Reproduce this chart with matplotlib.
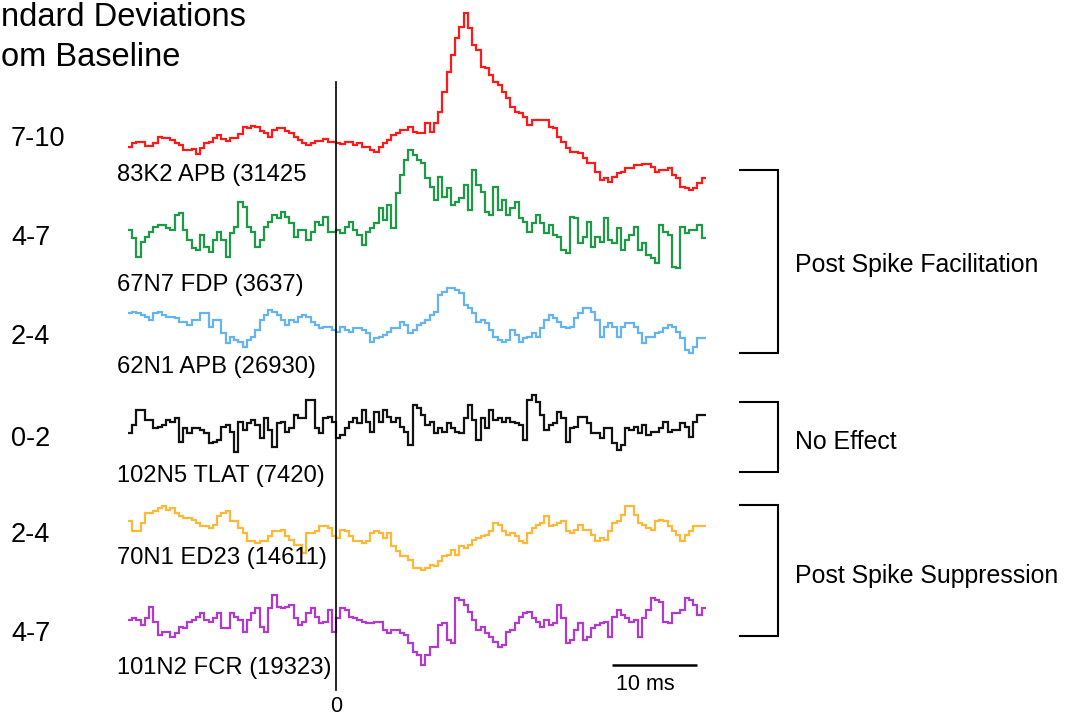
import numpy as np
import matplotlib
matplotlib.use("Agg")
import matplotlib.pyplot as plt

plt.rcParams['font.family'] = ['Liberation Sans', 'DejaVu Sans']

# ---- data -------------------------------------------------------------
t_start = -24.5   # ms, first bin edge
bin_ms = 0.5      # ms per bin

red_vals = [3, 7, 8, 8, 4, 4, 7, 13, 12, 12, 10, 7, 5, 0, 0, 1, -4, 2, 7, 8,
            12, 15, 11, 9, 12, 12, 16, 23, 22, 24, 23, 19, 17, 13, 20, 22, 22, 19, 17, 13,
            10, 7, 5, 7, 9, 9, 11, 8, 8, 7, 6, 8, 8, 5, 7, 3, 3, 0, -2, 3,
            7, 10, 15, 17, 20, 20, 23, 18, 17,
            17, 27, 18, 27, 38, 58, 78, 95, 112, 123, 137, 122, 105, 100, 83, 82, 75, 68, 65, 58,
            52, 43, 38, 37, 33, 25, 30, 30, 30, 30, 23, 22, 13, 8, 2, -2, -2, -3, -8, -13,
            -13, -22, -30, -28, -32, -27, -23, -22, -18, -18, -15, -15, -14, -14, -17, -22, -20, -20, -18, -25,
            -28, -37, -38, -40, -38, -33, -28]

green_vals = [0, -8, -27, -12, -7, -2, 3, 5, 5, 2, 0, 15, 17, 0, -10, -18, -20, -5, -17, -22,
              -10, -2, -10, -27, -3, 3, 28, 23, 3, -2, -17, -10, 3, 8, 15, 12, 18, 13, 7, -7,
              0, 0, -10, -2, 8, 5, 13, -2, -2, 0, -3, 3, 8, 0, -5, -15, -2, 2, 7, 22,
              10, 25, 2, 37, 55, 70, 80, 75, 70,
              67, 52, 43, 30, 53, 33, 42, 25, 28, 32, 45, 20, 60, 45, 38, 18, 15, 43, 20, 30,
              15, 22, 28, 12, 8, -2, 7, 15, 7, -3, 5, -5, -7, -20, -23, 13, 12, -13, -7, 8,
              -17, -7, -12, 12, -10, -13, 2, -20, -10, -5, 3, -20, -13, -25, -28, -33, 5, -2, -5, -37,
              -38, 3, -3, 0, 0, 5, -8]

blue_vals = [7, 8, 7, 5, 3, 0, 7, 8, 5, 3, 3, 2, -2, -2, -5, 0, 0, 7, 7, -7,
             0, 0, -13, -23, -17, -20, -22, -27, -20, -17, -10, 0, 5, 10, 8, 5, 0, -5, 0, -2,
             3, 5, 3, -2, -5, -8, -7, -7, -10, -12, -7, -10, -12, -8, -8, -10, -13, -22, -18, -17,
             -15, -12, -8, -8, -2, -5, -13, -10, -5,
             -3, 0, 5, 8, 25, 28, 32, 32, 30, 27, 15, 12, 7, -2, 0, -3, -10, -17, -20, -22,
             -20, -10, -15, -22, -18, -17, -13, -17, -8, 0, 5, 2, -2, -7, -8, -7, 2, 7, 12, 12,
             8, 0, -17, -7, -3, -7, -17, -7, -3, -3, -7, -13, -23, -17, -17, -13, -12, -8, -5, -7,
             -12, -18, -30, -33, -27, -18, -18]

black_vals = [-8, 0, 15, 15, 5, 5, -3, -2, 0, 5, 3, 7, -17, -3, -8, -3, -3, -5, -8, -18,
              -17, -15, -2, 0, -7, -27, 3, -5, 2, 5, 0, -13, 7, -5, -22, 2, 3, -7, -3, 10,
              7, 7, 25, 25, -3, -8, 7, 8, 3, -13, -10, -3, 3, 7, 2, 15, 3, -7, 13, 3,
              15, 8, 3, 7, -2, -7, -20, 20, 17,
              10, 0, 3, -8, -3, -7, 2, -3, -7, -8, 7, 20, 5, -15, 7, -3, 15, 5, 7, 3,
              7, 3, 2, 0, -15, 25, 30, 23, 10, -5, 0, 2, 13, 7, -17, -3, -2, 8, 8, 2,
              -8, -8, -13, -3, -3, -18, -25, -20, -3, -5, -2, -8, 0, -10, -7, -7, -3, 3, -7, -5,
              -5, 2, -2, -12, 3, 10, 10]

orange_vals = [9, -1, -1, 7, 17, 17, 19, 22, 24, 20, 22, 17, 14, 12, 12, 10, 7, 4, 4, 2,
               5, 14, 17, 19, 9, 9, 2, -3, -11, -11, -13, -11, -11, -6, -1, -1, 0, -6, -10, -15,
               -15, -23, -3, -3, -1, 4, 4, 2, -6, -8, 0, -1, -6, -11, -11, -13, -11, -3, -1, -3,
               -8, -3, -16, -21, -26, -26, -30, -38, -38,
               -40, -38, -35, -36, -31, -26, -25, -20, -25, -16, -18, -15, -10, -8, -6, -5, -1, 7, 5, -1,
               -5, -3, -6, -11, -13, -3, 2, 5, 7, 14, 4, 5, 7, 9, -1, -3, 0, 5, 0, 0,
               -5, -11, -8, -10, -1, 7, 9, 15, 24, 24, 15, 7, 5, 2, 0, 9, 10, 9, 4, -1,
               -5, -11, -5, -1, 4, 4, 4]

purple_vals = [0, 2, 0, -5, 2, 13, -2, -15, -12, -12, -17, -13, -7, -8, -2, 0, 3, 7, 0, -2,
               2, 7, -8, -8, 7, 3, 0, -12, 0, 7, 12, -7, -12, 12, 25, 13, 12, 13, 15, 2,
               -5, -2, 7, 12, 3, -3, -2, 10, -12, 2, 12, 10, 3, 2, 0, -2, -3, -3, -2, -2,
               -10, -13, -10, -10, -13, -15, -23, -32, -35,
               -45, -35, -27, -27, -5, -3, -20, -23, 22, 20, 15, 8, 0, -10, -7, -13, -17, -22, -27, -25,
               -12, -10, -3, 3, 7, 8, 2, -2, -7, 0, -5, -3, 15, 2, -23, -20, -10, -3, -20, -17,
               -8, -5, -3, -2, -17, 3, 10, 5, 2, -2, 0, -17, 2, 10, 22, 20, 18, -2, -3, 7,
               7, 10, 22, 20, 15, 5, 12]

sd_labels = ["7-10", "4-7", "2-4", "0-2", "2-4", "4-7"]
unit_labels = ["83K2 APB (31425", "67N7 FDP (3637)", "62N1 APB (26930)",
               "102N5 TLAT (7420)", "70N1 ED23 (14611)", "101N2 FCR (19323)"]
group_labels = ["Post Spike Facilitation", "No Effect", "Post Spike Suppression"]
title_lines = ["ndard Deviations", "om Baseline"]   # as visible (cropped) in the reference
scale_bar_ms = 10

# ---- styling / layout ---------------------------------------------------
W, H = 1073, 719
PX_PER_MS = 8.5
ZERO_PX = 336

series = [red_vals, green_vals, blue_vals, black_vals, orange_vals, purple_vals]
colors = ["#ff1a1a", "#1e9a46", "#66b3f2", "#111111", "#fdb838", "#b03acb"]
row_base = [150, 230, 320, 425, 530, 620]        # pixel row of each trace
sd_label_y = [139, 238, 337, 439, 535, 634]
unit_label_y = [175, 285, 367, 476, 558, 668]
group_label_y = [265, 442, 576]

fig = plt.figure(figsize=(W / 100, H / 100), dpi=100)
ax = fig.add_axes([0, 0, 1, 1])
ax.set_xlim(-ZERO_PX / PX_PER_MS, (W - ZERO_PX) / PX_PER_MS)
ax.set_ylim(H, 0)
ax.axis("off")


def fx(px):
    return px / W


def fy(py):
    return 1 - py / H


for vals, col, base in zip(series, colors, row_base):
    v = np.asarray(vals, dtype=float)
    edges = t_start + bin_ms * np.arange(len(v) + 1)
    ax.stairs(base - v, edges, baseline=None, color=col, lw=1.6)

# zero line
ax.plot([0, 0], [82, 690], color="black", lw=1.2)
fig.text(fx(ZERO_PX), fy(707), "0", ha="center", va="center", fontsize=15.5)

# scale bar
sb_x0 = (612 - ZERO_PX) / PX_PER_MS
ax.plot([sb_x0, sb_x0 + scale_bar_ms], [665, 665], color="black", lw=1.8,
        solid_capstyle="butt")
fig.text(fx(645), fy(685), f"{scale_bar_ms} ms", ha="center", va="center", fontsize=15.5)

# labels
for lab, y in zip(sd_labels, sd_label_y):
    fig.text(fx(11), fy(y), lab, ha="left", va="center", fontsize=19.5)
for lab, y in zip(unit_labels, unit_label_y):
    fig.text(fx(117), fy(y), lab, ha="left", va="center", fontsize=17.1)

# title (visible part, as in the reference)
fig.text(fx(1), fy(18), title_lines[0], ha="left", va="center", fontsize=23.5)
fig.text(fx(1), fy(57), title_lines[1], ha="left", va="center", fontsize=23.5)

# brackets
brackets = [(170, 353), (402, 472), (505, 636)]
x_tick0 = (740 - ZERO_PX) / PX_PER_MS
x_vert = (778 - ZERO_PX) / PX_PER_MS
for (y0, y1), lab, ly in zip(brackets, group_labels, group_label_y):
    ax.plot([x_tick0, x_vert, x_vert, x_tick0], [y0, y0, y1, y1], color="black", lw=1.5,
            solid_joinstyle="miter")
    fig.text(fx(795), fy(ly), lab, ha="left", va="center", fontsize=17.9)

fig.savefig("out.png", dpi=100)
